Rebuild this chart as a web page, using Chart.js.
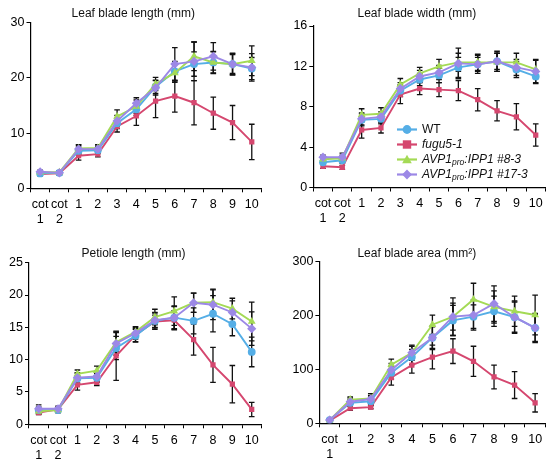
<!DOCTYPE html>
<html><head><meta charset="utf-8">
<script src="https://cdn.jsdelivr.net/npm/chart.js@4.4.1/dist/chart.umd.min.js"></script>
<style>
html,body{margin:0;padding:0;background:#fff;width:554px;height:468px;overflow:hidden;position:relative;font-family:"Liberation Sans",Arial,sans-serif;}
canvas{position:absolute;}
#legend{position:absolute;left:397px;top:0;font-size:12px;color:#111;font-style:italic;}
.row{position:absolute;left:0;height:15px;line-height:15px;white-space:nowrap;}
.row svg{position:absolute;left:0;top:0;}
.row span{position:absolute;left:25px;top:0;}
sub{font-size:8.5px;vertical-align:-2px;line-height:0;}
</style>
</head><body>
<canvas id="c1" width="261" height="234" style="left:5px;top:0;width:261px;height:234px"></canvas>
<canvas id="c2" width="262" height="234" style="left:288px;top:0;width:262px;height:234px"></canvas>
<canvas id="c3" width="261" height="234" style="left:5px;top:234px;width:261px;height:234px"></canvas>
<canvas id="c4" width="262" height="234" style="left:288px;top:234px;width:262px;height:234px"></canvas>
<div id="legend">
  <div class="row" style="top:121.5px"><svg width="22" height="15"><line x1="0" y1="7.5" x2="20" y2="7.5" stroke="#55AEE6" stroke-width="2.2"/><circle cx="10" cy="7.5" r="4.4" fill="#55AEE6"/></svg><span style="font-style:normal">WT</span></div>
  <div class="row" style="top:136.5px"><svg width="22" height="15"><line x1="0" y1="7.5" x2="20" y2="7.5" stroke="#D5476F" stroke-width="2.2"/><rect x="5.8" y="3.3" width="8.4" height="8.4" fill="#D5476F"/></svg><span>fugu5-1</span></div>
  <div class="row" style="top:151.5px"><svg width="22" height="15"><line x1="0" y1="7.5" x2="20" y2="7.5" stroke="#A4DA55" stroke-width="2.2"/><polygon points="10,2.8 14.8,11.2 5.2,11.2" fill="#A4DA55"/></svg><span>AVP1<sub>pro</sub>:IPP1 #8-3</span></div>
  <div class="row" style="top:166.5px"><svg width="22" height="15"><line x1="0" y1="7.5" x2="20" y2="7.5" stroke="#9C88E6" stroke-width="2.2"/><polygon points="10,2.6 14.9,7.5 10,12.4 5.1,7.5" fill="#9C88E6"/></svg><span>AVP1<sub>pro</sub>:IPP1 #17-3</span></div>
</div>
<script>
// ---- categories ----
const leavesWithTwoCot = [['cot','1'],['cot','2'],'1','2','3','4','5','6','7','8','9','10'];
const leavesWithOneCot = [['cot','1'],'1','2','3','4','5','6','7','8','9','10'];

// ---- series names ----
const seriesNames = ['WT','fugu5-1','AVP1pro:IPP1 #8-3','AVP1pro:IPP1 #17-3'];

// ---- Leaf blade length (mm) ----
const lenWT   = [2.7, 2.8, 6.8, 6.9, 11.8, 14.3, 18.4, 21.2, 22.5, 22.8, 22.5, 21.7];
const lenFugu = [2.6, 2.7, 5.9, 6.2, 11.2, 13.1, 15.8, 16.7, 15.5, 13.6, 11.9, 8.4];
const len83   = [2.9, 2.9, 7.2, 7.3, 13.0, 14.8, 18.9, 20.9, 23.9, 22.8, 22.5, 23.1];
const len173  = [3.0, 2.8, 7.1, 7.1, 12.2, 15.4, 18.2, 22.5, 23.0, 23.9, 22.5, 21.9];
const lenErrWT   = [0.4, 0.3, 0.7, 0.6, 1.0, 1.1, 1.2, 1.8, 2.2, 1.9, 1.7, 2.0];
const lenErrFugu = [0.3, 0.3, 0.8, 0.5, 1.0, 1.7, 3.0, 2.9, 4.0, 2.9, 3.1, 3.2];
const lenErr83   = [0.3, 0.3, 0.6, 0.6, 1.2, 1.2, 1.2, 1.7, 2.6, 2.0, 1.9, 2.7];
const lenErr173  = [0.3, 0.3, 0.8, 0.6, 1.0, 1.0, 1.3, 3.0, 3.5, 2.5, 2.0, 2.5];

// ---- Leaf blade width (mm) ----
const widWT   = [2.5, 2.7, 6.7, 6.8, 9.6, 10.7, 11.1, 11.9, 12.2, 12.5, 11.7, 11.0];
const widFugu = [2.1, 2.0, 5.7, 5.9, 9.2, 9.8, 9.7, 9.6, 8.7, 7.6, 7.0, 5.2];
const wid83   = [2.8, 2.9, 7.2, 7.3, 10.2, 11.3, 12.0, 12.4, 12.4, 12.4, 12.4, 11.7];
const wid173  = [3.0, 3.0, 6.8, 7.0, 9.8, 11.0, 11.4, 12.3, 12.2, 12.5, 11.9, 11.5];
const widErrWT   = [0.2, 0.3, 0.6, 0.5, 0.6, 0.6, 0.7, 1.0, 0.7, 0.8, 0.8, 0.6];
const widErrFugu = [0.2, 0.2, 0.8, 0.5, 0.9, 0.6, 0.7, 1.0, 1.1, 1.0, 1.3, 1.1];
const widErr83   = [0.2, 0.3, 0.6, 0.6, 0.6, 0.6, 0.7, 0.9, 0.8, 0.9, 0.9, 0.9];
const widErr173  = [0.2, 0.4, 0.6, 0.5, 0.6, 0.6, 0.7, 1.5, 0.9, 1.0, 0.8, 1.2];

// ---- Petiole length (mm) ----
const petWT   = [2.2, 2.2, 7.1, 7.2, 11.8, 13.7, 16.0, 16.5, 16.0, 17.1, 15.5, 11.2];
const petFugu = [1.8, 2.3, 6.1, 6.5, 10.6, 13.8, 15.9, 16.1, 13.1, 9.2, 6.2, 2.3];
const pet83   = [2.0, 2.2, 7.8, 8.3, 12.7, 14.3, 16.6, 17.5, 18.8, 18.9, 17.9, 15.9];
const pet173  = [2.4, 2.4, 7.2, 7.4, 12.5, 14.1, 16.1, 16.5, 18.8, 18.5, 17.3, 14.8];
const petErrWT   = [0.5, 0.4, 0.8, 0.7, 1.8, 1.0, 1.3, 1.8, 2.0, 2.8, 1.8, 2.3];
const petErrFugu = [0.3, 0.3, 0.8, 0.5, 3.8, 1.0, 1.0, 1.5, 2.4, 2.7, 2.9, 1.1];
const petErr83   = [0.4, 0.4, 0.6, 0.7, 1.5, 0.8, 1.2, 2.2, 1.5, 2.0, 1.6, 3.0];
const petErr173  = [0.6, 0.4, 0.8, 0.8, 1.8, 0.9, 1.1, 1.7, 1.5, 2.3, 1.8, 2.6];

// ---- Leaf blade area (mm2) ----
const areaWT   = [6, 38, 41, 94, 123, 159, 191, 198, 208, 197, 177];
const areaFugu = [5, 28, 30, 85, 108, 123, 134, 115, 86, 71, 38];
const area83   = [6, 44, 46, 109, 131, 183, 198, 230, 216, 208, 201];
const area173  = [6, 40, 45, 99, 131, 159, 198, 201, 222, 197, 177];
const areaErrWT   = [2, 6, 8, 12, 14, 20, 28, 22, 28, 28, 25];
const areaErrFugu = [2, 4, 3, 14, 15, 22, 23, 28, 22, 25, 17];
const areaErr83   = [2, 5, 6, 10, 12, 18, 25, 30, 30, 28, 37];
const areaErr173  = [2, 7, 10, 12, 14, 22, 35, 28, 33, 30, 27];

// ---- y tick settings ----
const yLen  = {min:0, max:30, step:10};
const yWid  = {min:0, max:16, step:4};
const yPet  = {min:0, max:25, step:5};
const yArea = {min:0, max:300, step:100};

const FONT = '"Liberation Sans", Arial, sans-serif';
const colors = ['#55AEE6', '#D5476F', '#A4DA55', '#9C88E6'];
const styles = ['circle', 'rect', 'triangle', 'rectRot'];
const radii  = [3.9, 3.7, 4.5, 4.6];
const orders = [2, 3, 1, 0];

const errorBars = {
  id: 'errorBars',
  beforeDatasetsDraw(chart) {
    const ctx = chart.ctx, ys = chart.scales.y;
    ctx.save();
    ctx.strokeStyle = '#111';
    ctx.lineWidth = 1.3;
    chart.data.datasets.forEach((ds, i) => {
      const meta = chart.getDatasetMeta(i);
      meta.data.forEach((pt, j) => {
        const e = ds.errors[j], v = ds.data[j];
        const t = ys.getPixelForValue(v + e), b = ys.getPixelForValue(v - e);
        const x = pt.x;
        ctx.beginPath();
        ctx.moveTo(x, t); ctx.lineTo(x, b);
        ctx.moveTo(x - 2.8, t); ctx.lineTo(x + 2.8, t);
        ctx.moveTo(x - 2.8, b); ctx.lineTo(x + 2.8, b);
        ctx.stroke();
      });
    });
    ctx.restore();
  }
};

function makePanel(id, title, labels, series, errs, yCfg, geo) {
  const datasets = series.map((d, i) => ({
    label: seriesNames[i],
    data: d,
    errors: errs[i],
    borderColor: colors[i],
    backgroundColor: colors[i],
    pointBackgroundColor: colors[i],
    pointBorderColor: colors[i],
    pointStyle: styles[i],
    pointRadius: radii[i],
    pointBorderWidth: 0,
    borderWidth: 1.9,
    tension: 0,
    order: orders[i]
  }));
  new Chart(document.getElementById(id), {
    type: 'line',
    data: { labels, datasets },
    plugins: [errorBars],
    options: {
      responsive: false,
      animation: false,
      devicePixelRatio: 1,
      layout: { padding: { left: 0, right: geo.padR, top: 0, bottom: 0 } },
      plugins: {
        legend: { display: false },
        tooltip: { enabled: false },
        title: {
          display: true, text: title, color: '#111',
          font: { family: FONT, size: 12, weight: 'normal', lineHeight: 1.2 },
          padding: { top: geo.tTop, bottom: geo.tBot }
        }
      },
      scales: {
        x: {
          type: 'category', offset: true,
          grid: { offset: true, drawOnChartArea: false, drawTicks: true, tickLength: 4, color: '#000', lineWidth: 1 },
          border: { display: true, color: '#000', width: 1.2 },
          ticks: { color: '#000', font: { family: FONT, size: 12.5, lineHeight: 1.2 }, padding: 4.5, autoSkip: false, maxRotation: 0, minRotation: 0 },
          afterFit(s) { s.height = geo.xH; }
        },
        y: {
          min: yCfg.min, max: yCfg.max,
          grid: { drawOnChartArea: false, drawTicks: true, tickLength: 4, color: '#000', lineWidth: 1 },
          border: { display: true, color: '#000', width: 1.2 },
          ticks: { stepSize: yCfg.step, color: '#000', font: { family: FONT, size: 12.5 }, padding: 2 },
          afterFit(s) { s.width = geo.yW; }
        }
      }
    }
  });
}

makePanel('c1', 'Leaf blade length (mm)', leavesWithTwoCot,
  [lenWT, lenFugu, len83, len173], [lenErrWT, lenErrFugu, lenErr83, lenErr173], yLen,
  { padR: 4.4, tTop: 6.1, tBot: 2.2, xH: 45.7, yW: 25.5 });
makePanel('c2', 'Leaf blade width (mm)', leavesWithTwoCot,
  [widWT, widFugu, wid83, wid173], [widErrWT, widErrFugu, widErr83, widErr173], yWid,
  { padR: 4.3, tTop: 6.1, tBot: 5.5, xH: 46.5, yW: 25.3 });
makePanel('c3', 'Petiole length (mm)', leavesWithTwoCot,
  [petWT, petFugu, pet83, pet173], [petErrWT, petErrFugu, petErr83, petErr173], yPet,
  { padR: 4, tTop: 12.8, tBot: 1.5, xH: 43.7, yW: 24 });
makePanel('c4', 'Leaf blade area (mm\u00B2)', leavesWithOneCot,
  [areaWT, areaFugu, area83, area173], [areaErrWT, areaErrFugu, areaErr83, areaErr173], yArea,
  { padR: 4.4, tTop: 12.8, tBot: 0.5, xH: 44.7, yW: 31.4 });
</script>
</body></html>
